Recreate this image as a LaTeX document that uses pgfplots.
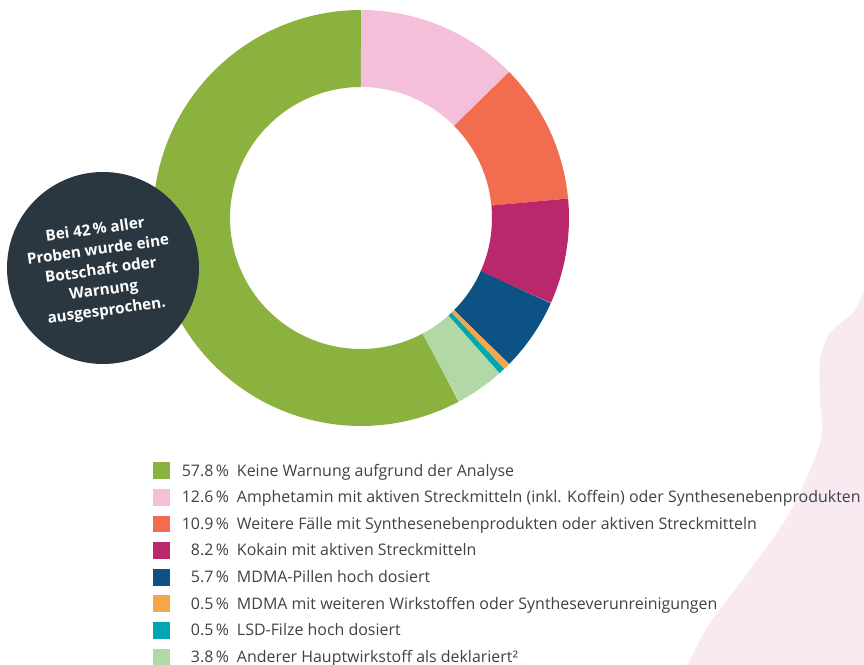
\documentclass[border=0pt]{standalone}
\usepackage{fontspec}
\setmainfont{Open Sans}
\usepackage{pgfplots}
\pgfplotsset{compat=1.18}
\definecolor{cGreen}{HTML}{8BB23F}
\definecolor{cPink}{HTML}{F3BFD9}
\definecolor{cOrange}{HTML}{F26C4F}
\definecolor{cMagenta}{HTML}{B8286A}
\definecolor{cBlue}{HTML}{0C5285}
\definecolor{cLOrange}{HTML}{F5A54A}
\definecolor{cTeal}{HTML}{00A6B0}
\definecolor{cLGreen}{HTML}{B1D8A6}
\definecolor{cDark}{HTML}{2B3740}
\definecolor{cText}{HTML}{3C4248}
\definecolor{cBlob}{HTML}{F9E9F0}
% shares in percent
\newcommand{\pGreen}{57.8}
\newcommand{\pPink}{12.6}
\newcommand{\pOrange}{10.9}
\newcommand{\pMagenta}{8.2}
\newcommand{\pBlue}{5.7}
\newcommand{\pLOrange}{0.5}
\newcommand{\pTeal}{0.5}
\newcommand{\pLGreen}{3.8}
% cumulative angles, clockwise from the top
\pgfmathsetmacro{\aA}{90-3.6*\pPink}
\pgfmathsetmacro{\aB}{\aA-3.6*\pOrange}
\pgfmathsetmacro{\aC}{\aB-3.6*\pMagenta}
\pgfmathsetmacro{\aD}{\aC-3.6*\pBlue}
\pgfmathsetmacro{\aE}{\aD-3.6*\pLOrange}
\pgfmathsetmacro{\aF}{\aE-3.6*\pTeal}
\pgfmathsetmacro{\aG}{\aF-3.6*\pLGreen}
\pgfmathsetmacro{\aH}{\aG-3.6*\pGreen}
\newcommand{\pc}[1]{\makebox[59bp][r]{#1\hspace{2.5bp}\%}\hspace{8bp}}
\begin{document}
\begin{tikzpicture}
\useasboundingbox (0,0) rectangle (864bp,665bp);
\begin{scope}
\clip (0,0) rectangle (864bp,665bp);
\fill[cBlob] plot[smooth] coordinates {(880bp,392bp) (864bp,372bp) (853bp,352bp) (830bp,332bp) (820bp,305bp) (820bp,265bp) (822bp,232bp) (813bp,202bp) (787bp,148bp) (750bp,95bp) (710bp,42bp) (687bp,0bp) (670bp,-30bp)} -- (900bp,-30bp) -- (900bp,392bp) -- cycle;
\end{scope}
\begin{axis}[
  hide axis, x=1bp, y=1bp,
  xmin=-210, xmax=210, ymin=-210, ymax=210,
  anchor=origin, at={(361bp,447bp)},
  clip=false,
  legend cell align=left,
  legend image code/.code={\fill[#1, draw=none, line width=0pt] (0bp,-8.3bp) rectangle (17bp,8.3bp);},
  legend style={at={(axis cs:-208,-244.5)}, anchor=north west, draw=none, fill=none,
    inner sep=0pt, outer sep=0pt, row sep=10bp, column sep=0pt,
    font=\fontsize{16}{19}\selectfont, text=cText,
    nodes={inner sep=0pt, outer sep=0pt}},
]
\addplot[cGreen, line width=77bp, line cap=butt, domain=\aH:\aG, samples=300] ({169.5*cos(x)},{169.5*sin(x)});
\addlegendentry{\pc{57.8}Keine Warnung aufgrund der Analyse}
\addplot[cPink, line width=77bp, line cap=butt, domain=\aA:90, samples=80] ({169.5*cos(x)},{169.5*sin(x)});
\addlegendentry{\pc{12.6}Amphetamin mit aktiven Streckmitteln (inkl. Koffein) oder Synthesenebenprodukten}
\addplot[cOrange, line width=77bp, line cap=butt, domain=\aB:\aA, samples=80] ({169.5*cos(x)},{169.5*sin(x)});
\addlegendentry{\pc{10.9}Weitere Fälle mit Synthesenebenprodukten oder aktiven Streckmitteln}
\addplot[cMagenta, line width=77bp, line cap=butt, domain=\aC:\aB, samples=60] ({169.5*cos(x)},{169.5*sin(x)});
\addlegendentry{\pc{8.2}Kokain mit aktiven Streckmitteln}
\addplot[cBlue, line width=77bp, line cap=butt, domain=\aD:\aC, samples=50] ({169.5*cos(x)},{169.5*sin(x)});
\addlegendentry{\pc{5.7}MDMA-Pillen hoch dosiert}
\addplot[cLOrange, line width=77bp, line cap=butt, domain=\aE:\aD, samples=10] ({169.5*cos(x)},{169.5*sin(x)});
\addlegendentry{\pc{0.5}MDMA mit weiteren Wirkstoffen oder Syntheseverunreinigungen}
\addplot[cTeal, line width=77bp, line cap=butt, domain=\aF:\aE, samples=10] ({169.5*cos(x)},{169.5*sin(x)});
\addlegendentry{\pc{0.5}LSD-Filze hoch dosiert}
\addplot[cLGreen, line width=77bp, line cap=butt, domain=\aG:\aF, samples=40] ({169.5*cos(x)},{169.5*sin(x)});
\addlegendentry{\pc{3.8}Anderer Hauptwirkstoff als deklariert²}
\end{axis}
\fill[cDark] (103bp,397bp) circle (96bp);
\node[rotate=8, text=white, align=center, inner sep=0pt,
  font=\bfseries\fontsize{15.3}{20.5}\selectfont] at (101bp,394bp)
  {Bei 42\,\% aller\\Proben wurde eine\\Botschaft oder\\Warnung\\ausgesprochen.};
\end{tikzpicture}
\end{document}
